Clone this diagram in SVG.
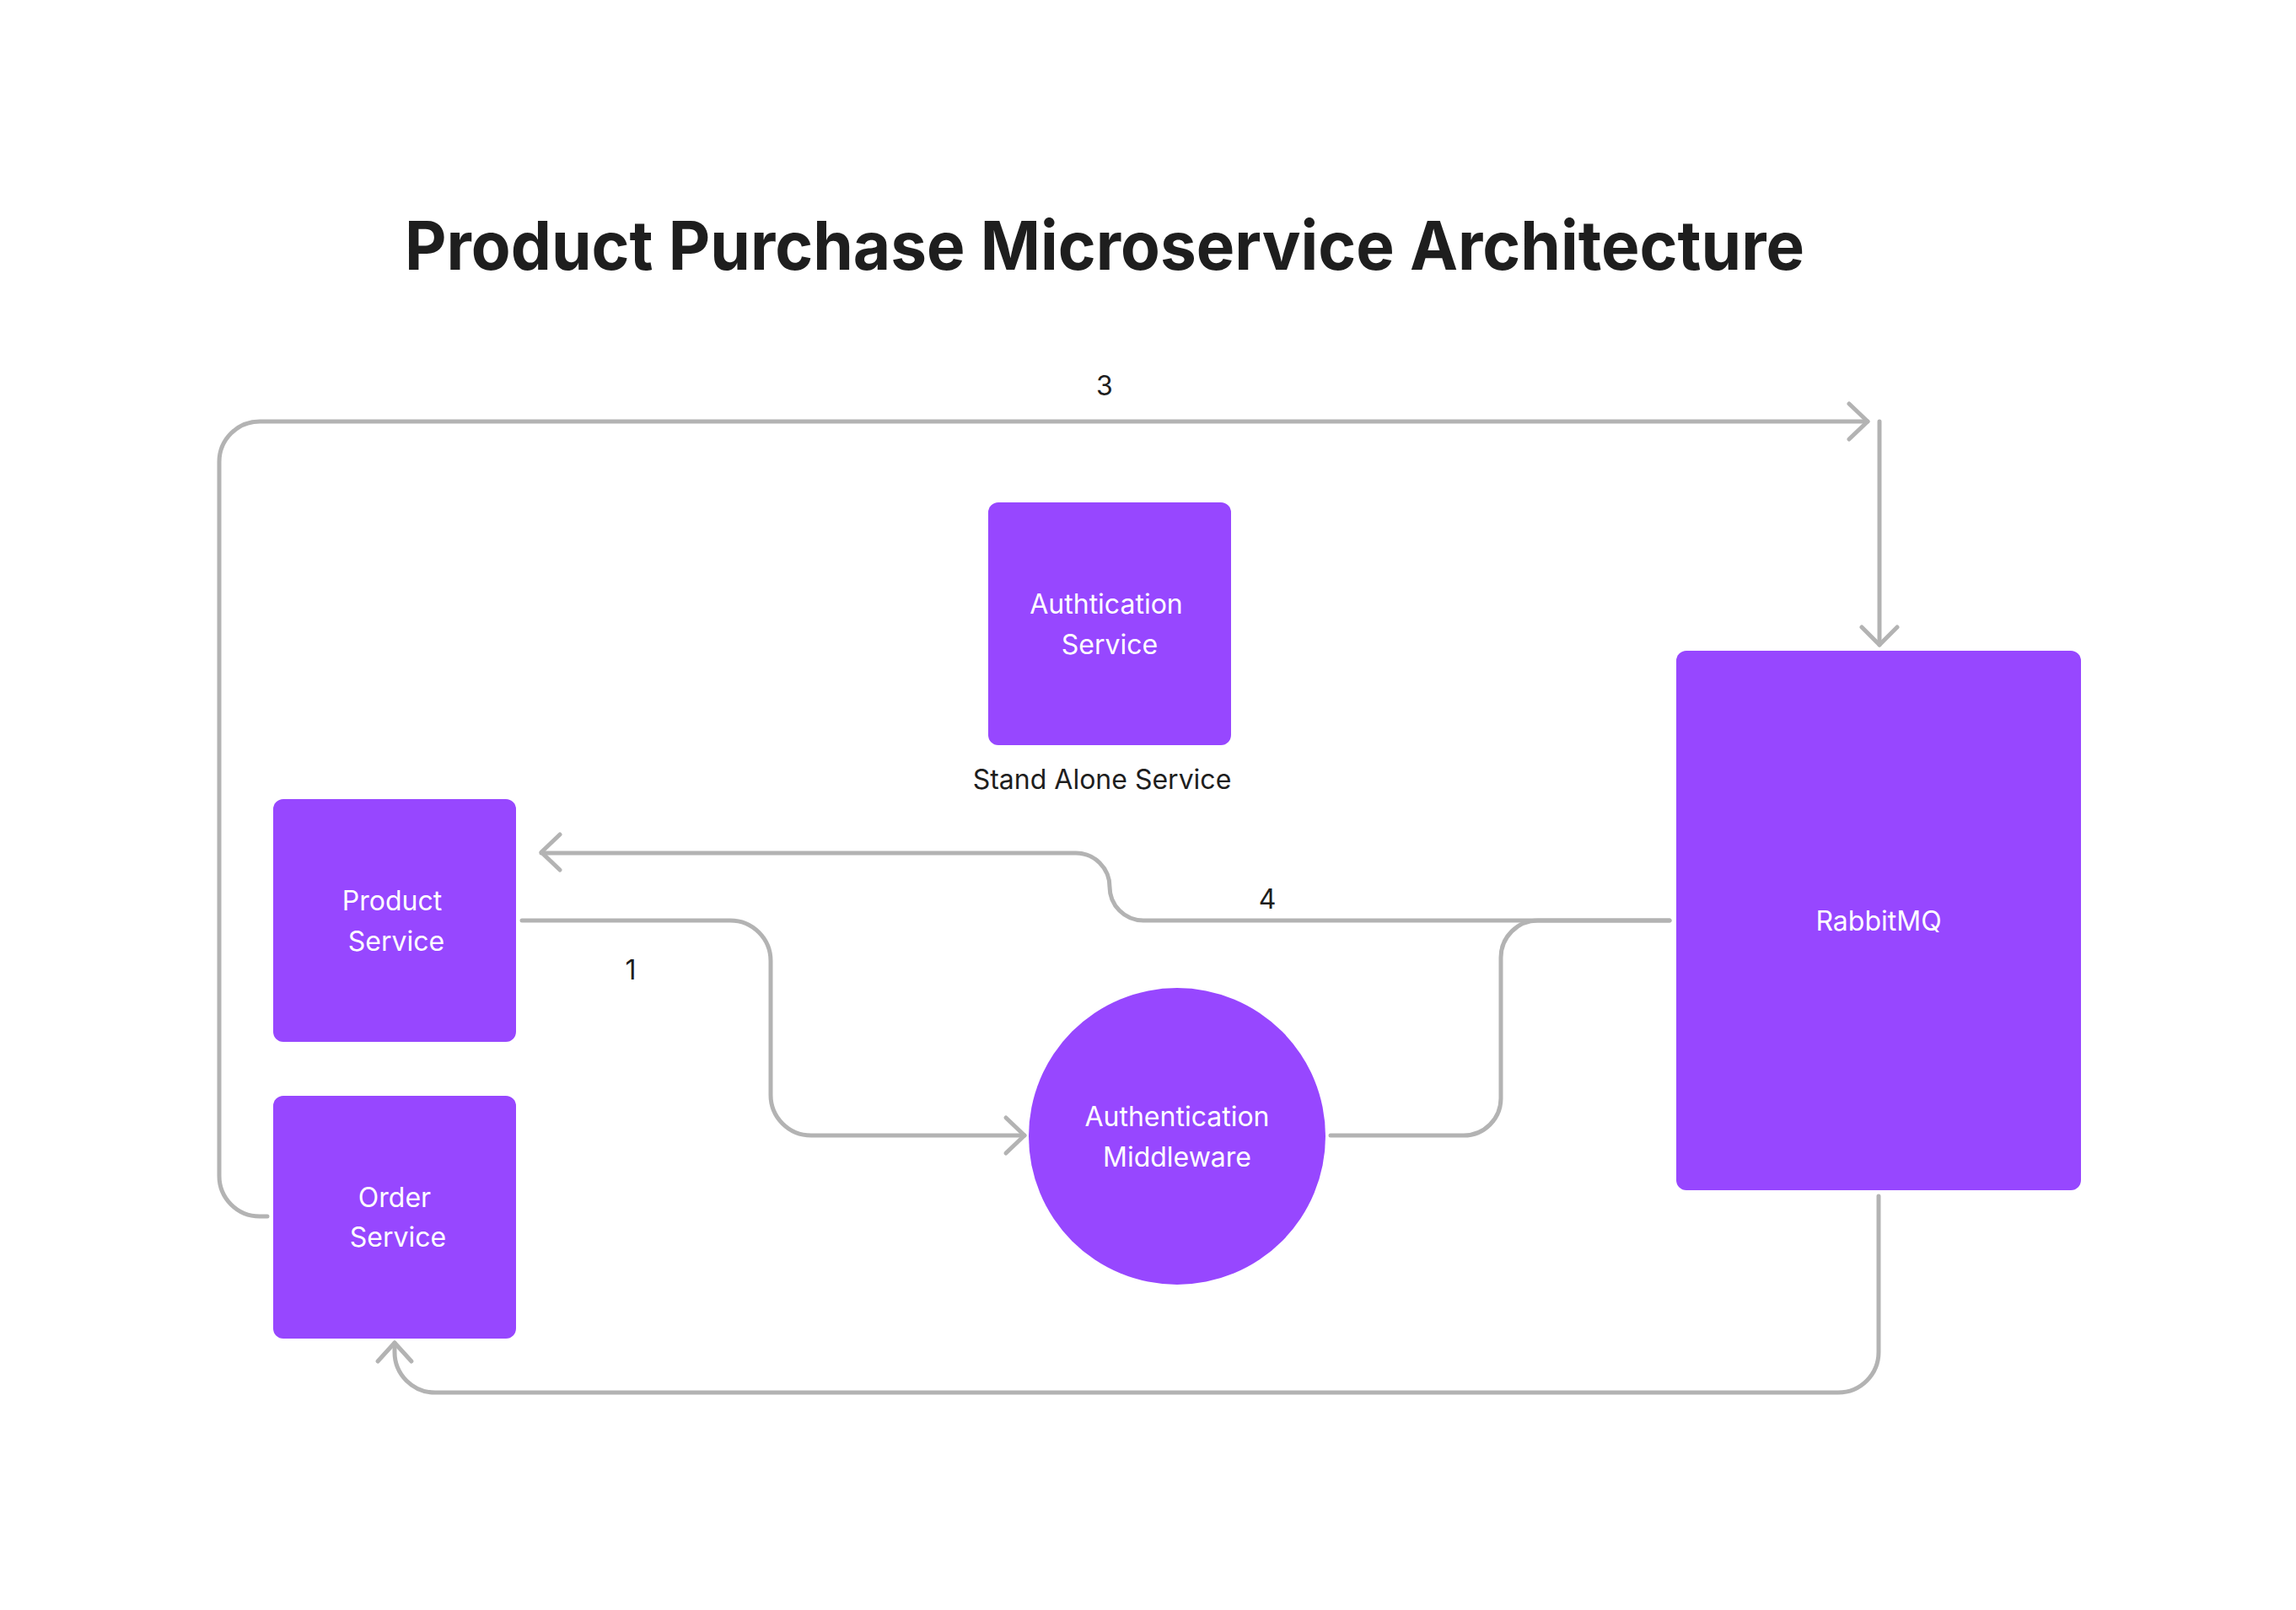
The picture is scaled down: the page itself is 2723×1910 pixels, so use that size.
<svg xmlns="http://www.w3.org/2000/svg" width="2723" height="1910" viewBox="0 0 2723 1910">
<style>
.node{fill:#9747ff}
.nt{font-family:Inter,"Noto Sans","Liberation Sans",sans-serif;font-size:32px;fill:#ffffff;text-anchor:middle}
.lbl{font-family:Inter,"Noto Sans","Liberation Sans",sans-serif;font-size:32px;fill:#1e1e1e;text-anchor:middle}
.title{font-family:Inter,"Noto Sans","Liberation Sans",sans-serif;font-size:80px;font-weight:700;fill:#1e1e1e;text-anchor:middle}
.conn{fill:none;stroke:#b3b3b3;stroke-width:5;stroke-linecap:round;stroke-linejoin:round}
</style>
<rect width="2723" height="1910" fill="#ffffff"/>
<text class="title" x="1310" y="320" textLength="1660" lengthAdjust="spacingAndGlyphs">Product Purchase Microservice Architecture</text>

<g id="connectors">
  <!-- 3: Order Service -> top -> RabbitMQ -->
  <path class="conn" d="M317 1443 H308 A48 48 0 0 1 260 1395 V548 A48 48 0 0 1 308 500 H2215"/>
  <path class="conn" d="M2193 479 L2215 500 L2193 521"/>
  <path class="conn" d="M2229 500 V765"/>
  <path class="conn" d="M2208 744 L2229 765 L2250 744"/>
  <!-- 1: Product Service -> Middleware -->
  <path class="conn" d="M619 1092 H866 A48 48 0 0 1 914 1140 V1299 A48 48 0 0 0 962 1347 H1215"/>
  <path class="conn" d="M1193 1326 L1215 1347 L1193 1368"/>
  <!-- Middleware -> RabbitMQ -->
  <path class="conn" d="M1578 1347 H1736 A44 44 0 0 0 1780 1303 V1136 A44 44 0 0 1 1824 1092 H1980"/>
  <!-- 4: RabbitMQ -> Product Service -->
  <path class="conn" d="M1980 1092 H1356 A40 40 0 0 1 1316 1052 A40 40 0 0 0 1276 1012 H642"/>
  <path class="conn" d="M664 990 L642 1011 L664 1032"/>
  <!-- RabbitMQ -> Order Service -->
  <path class="conn" d="M2228 1419 V1604 A48 48 0 0 1 2180 1652 H516 A48 48 0 0 1 468 1604 V1593"/>
  <path class="conn" d="M448 1615 L468 1593 L488 1615"/>
  <text class="lbl" x="1310" y="469">3</text>
  <text class="lbl" x="1503" y="1078">4</text>
  <text class="lbl" x="748" y="1162">1</text>
</g>

<g id="auth-service">
  <rect class="node" x="1172" y="596" width="288" height="288" rx="12"/>
  <text class="nt" x="1312" y="728">Authtication</text>
  <text class="nt" x="1316" y="776">Service</text>
  <text class="lbl" x="1307" y="936">Stand Alone Service</text>
</g>

<g id="product-service">
  <rect class="node" x="324" y="948" width="288" height="288" rx="12"/>
  <text class="nt" x="465" y="1080">Product</text>
  <text class="nt" x="470" y="1128">Service</text>
</g>

<g id="order-service">
  <rect class="node" x="324" y="1300" width="288" height="288" rx="12"/>
  <text class="nt" x="468" y="1432">Order</text>
  <text class="nt" x="472" y="1479">Service</text>
</g>

<g id="auth-middleware">
  <circle class="node" cx="1396" cy="1348" r="176"/>
  <text class="nt" x="1396" y="1336">Authentication</text>
  <text class="nt" x="1396" y="1384">Middleware</text>
</g>

<g id="rabbitmq">
  <rect class="node" x="1988" y="772" width="480" height="640" rx="12"/>
  <text class="nt" x="2228" y="1104">RabbitMQ</text>
</g>
</svg>
